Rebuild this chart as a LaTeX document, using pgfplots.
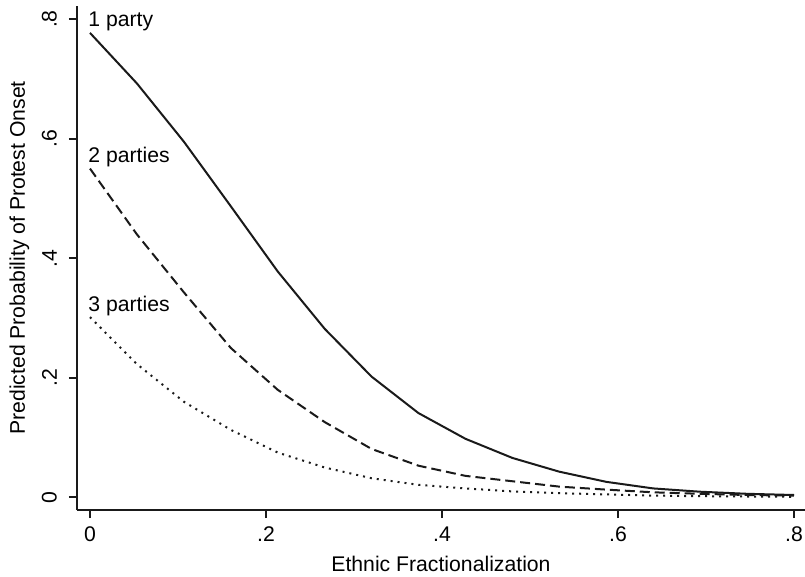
\documentclass[border=0pt]{standalone}
\usepackage{pgfplots}
\pgfplotsset{compat=1.18}
\usepackage{fontspec}
\setmainfont{Liberation Sans}
\definecolor{ink}{RGB}{26,26,26}
\begin{document}
\begin{tikzpicture}[font=\fontsize{10.6}{12.7}\selectfont]
\begin{axis}[
  scale only axis,
  width=364pt, height=252pt,
  xmin=-0.01477, xmax=0.8125,
  ymin=-0.0211, ymax=0.822,
  axis lines=left,
  axis line style={-, line width=1pt, draw=ink},
  tick align=outside,
  major tick length=4pt,
  tick style={line width=1pt, draw=ink},
  xtick={0,0.2,0.4,0.6,0.8},
  xticklabels={0,.2,.4,.6,.8},
  ytick={0,0.2,0.4,0.6,0.8},
  yticklabels={0,.2,.4,.6,.8},
  /pgf/number format/assume math mode=true,
  yticklabel style={xshift=-2.5pt, rotate=90, anchor=south},
  xticklabel style={yshift=-1pt},
  clip=false,
  every axis plot/.append style={line width=1pt, draw=ink},
]
\addplot[ink, solid] coordinates {
(0,0.777) (0.0533,0.6925) (0.1067,0.595) (0.16,0.487) (0.2133,0.378)
(0.2667,0.282) (0.32,0.202) (0.3733,0.141) (0.4267,0.098) (0.48,0.066)
(0.5333,0.043) (0.5867,0.026) (0.64,0.015) (0.6933,0.0095) (0.7467,0.006) (0.8,0.004)};
\addplot[ink, dash pattern=on 5pt off 2.5pt] coordinates {
(0,0.550) (0.0533,0.44) (0.1067,0.343) (0.16,0.25) (0.2133,0.18)
(0.2667,0.126) (0.32,0.081) (0.3733,0.053) (0.4267,0.036) (0.48,0.027)
(0.5333,0.018) (0.5867,0.013) (0.64,0.0085) (0.6933,0.006) (0.7467,0.004) (0.8,0.003)};
\addplot[ink, dash pattern=on 1pt off 2.5pt] coordinates {
(0,0.3015) (0.0533,0.223) (0.1067,0.160) (0.16,0.113) (0.2133,0.075)
(0.2667,0.050) (0.32,0.032) (0.3733,0.021) (0.4267,0.015) (0.48,0.010)
(0.5333,0.007) (0.5867,0.005) (0.64,0.003) (0.6933,0.002) (0.7467,0.0015) (0.8,0.001)};
\node[anchor=base west, inner sep=0pt, yshift=3pt, xshift=-1pt] at (axis cs:0,0.777) {1 party};
\node[anchor=base west, inner sep=0pt, yshift=3pt, xshift=-1pt] at (axis cs:0,0.550) {2 parties};
\node[anchor=base west, inner sep=0pt, yshift=3pt, xshift=-1pt] at (axis cs:0,0.3015) {3 parties};
\coordinate (sw) at (rel axis cs:0,0);
\coordinate (ne) at (rel axis cs:1,1);
\coordinate (yl) at (rel axis cs:0,0.5);
\coordinate (xl) at (rel axis cs:0.5,0);
\end{axis}
\node[rotate=90, anchor=base, inner sep=0pt] at ([xshift=-26pt]yl) {Predicted Probability of Protest Onset};
\node[anchor=base, inner sep=0pt] at ([yshift=-30.5pt]xl) {Ethnic Fractionalization};
\pgfresetboundingbox
\path ([xshift=-38.5pt, yshift=-33pt]sw) rectangle ([yshift=3pt]ne);
\end{tikzpicture}
\end{document}
